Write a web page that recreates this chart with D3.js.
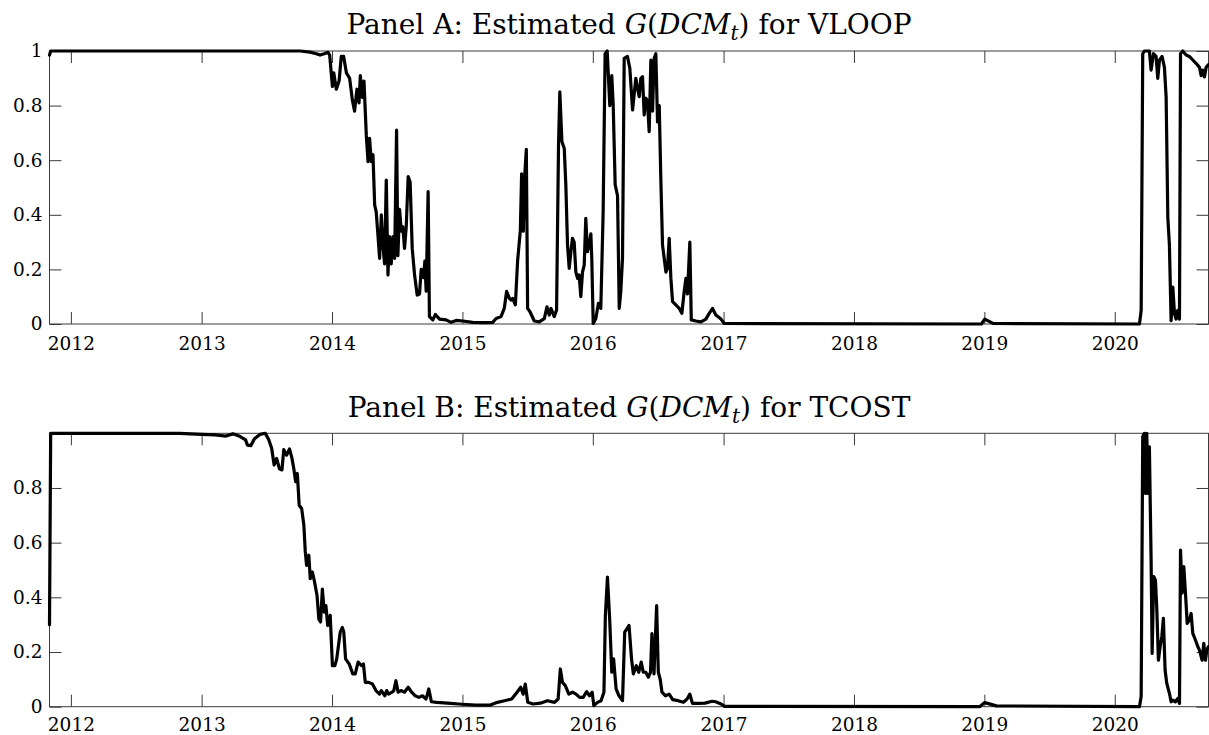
<!DOCTYPE html>
<html>
<head>
<meta charset="utf-8">
<script src="https://cdn.jsdelivr.net/npm/d3@7"></script>
<style>
  html, body { margin: 0; padding: 0; background: #fff; }
  svg { display: block; }
  text { font-family: "DejaVu Serif", serif; fill: #000; }
</style>
</head>
<body>
<svg id="chart" width="1209" height="735"></svg>
<script>
// ---------------- data (decimal years, estimated values) ----------------
const vloopYears = [
2011.836,2011.845,2013.756,2013.83,2013.88,2013.908,2013.94,2013.969,2013.982,
2014.003,2014.013,2014.033,2014.054,2014.071,2014.089,2014.110,2014.135,2014.156,2014.173,
2014.191,2014.207,2014.217,2014.232,2014.245,2014.263,2014.276,2014.288,2014.301,2014.314,
2014.327,2014.339,2014.352,2014.365,2014.378,2014.390,2014.403,2014.416,2014.429,2014.441,
2014.454,2014.467,2014.480,2014.495,2014.505,2014.518,2014.531,2014.543,2014.556,2014.569,
2014.584,2014.599,2014.615,2014.633,2014.653,2014.671,2014.684,2014.702,2014.712,2014.722,
2014.737,2014.747,2014.773,2014.793,2014.824,2014.875,2014.913,2014.952,2015.003,2015.079,
2015.181,2015.232,2015.258,2015.296,2015.321,2015.339,2015.360,2015.372,2015.385,2015.406,
2015.423,2015.436,2015.444,2015.454,2015.467,2015.477,2015.490,2015.500,2015.518,2015.551,
2015.589,2015.628,2015.648,2015.666,2015.679,2015.704,2015.722,2015.737,2015.747,2015.763,
2015.781,2015.793,2015.806,2015.819,2015.832,2015.844,2015.857,2015.870,2015.883,2015.895,
2015.908,2015.921,2015.934,2015.946,2015.959,2015.972,2015.985,2015.992,2016.003,2016.023,
2016.043,2016.061,2016.079,2016.094,2016.110,2016.120,2016.130,2016.145,2016.156,2016.171,
2016.189,2016.202,2016.214,2016.227,2016.240,2016.265,2016.283,2016.304,2016.316,2016.329,
2016.342,2016.355,2016.367,2016.380,2016.393,2016.406,2016.418,2016.431,2016.444,2016.457,
2016.469,2016.482,2016.495,2016.508,2016.520,2016.533,2016.546,2016.559,2016.571,2016.584,
2016.597,2016.610,2016.635,2016.661,2016.681,2016.699,2016.712,2016.724,2016.742,2016.753,
2016.788,2016.827,2016.865,2016.890,2016.916,2016.941,2016.980,2017.005,2018.977,2019.003,
2019.066,2020.189,2020.202,2020.214,2020.227,2020.265,2020.278,2020.296,2020.316,2020.329,
2020.342,2020.362,2020.380,2020.393,2020.406,2020.418,2020.431,2020.444,2020.457,2020.469,
2020.482,2020.495,2020.503,2020.520,2020.546,2020.571,2020.597,2020.622,2020.648,2020.661,
2020.673,2020.686,2020.699,2020.717
];
const vloopValues = [
0.985,1.0,1.0,0.996,0.99,0.985,0.99,0.995,0.985,
0.87,0.92,0.86,0.89,0.98,0.98,0.92,0.90,0.82,0.78,
0.86,0.81,0.91,0.83,0.89,0.69,0.595,0.68,0.595,0.62,
0.436,0.41,0.326,0.24,0.40,0.29,0.22,0.527,0.18,0.32,
0.22,0.32,0.24,0.71,0.25,0.42,0.34,0.356,0.277,0.356,
0.54,0.52,0.277,0.18,0.106,0.11,0.20,0.17,0.23,0.12,
0.485,0.027,0.015,0.035,0.018,0.015,0.006,0.013,0.011,0.006,
0.005,0.006,0.02,0.027,0.057,0.12,0.094,0.088,0.094,0.07,
0.23,0.30,0.34,0.55,0.34,0.535,0.64,0.057,0.045,0.011,
0.008,0.02,0.063,0.033,0.057,0.027,0.051,0.656,0.85,0.668,
0.643,0.51,0.29,0.204,0.265,0.314,0.30,0.19,0.167,0.18,
0.10,0.19,0.216,0.387,0.265,0.29,0.33,0.24,0.002,0.02,
0.076,0.057,0.41,0.99,1.0,0.90,0.80,0.91,0.80,0.51,
0.47,0.057,0.12,0.24,0.973,0.98,0.937,0.784,0.84,0.90,
0.863,0.833,0.90,0.906,0.766,0.827,0.815,0.705,0.967,0.78,
0.973,0.99,0.74,0.80,0.534,0.29,0.24,0.19,0.204,0.314,
0.167,0.082,0.07,0.057,0.039,0.12,0.167,0.11,0.30,0.015,
0.011,0.008,0.018,0.039,0.057,0.033,0.018,0.002,0.0,0.018,
0.002,0.0,0.05,0.99,1.0,1.0,0.93,0.99,0.98,0.90,
0.967,0.98,0.94,0.83,0.39,0.29,0.012,0.135,0.037,0.018,
0.05,0.018,0.99,1.0,0.985,0.98,0.967,0.955,0.94,0.91,
0.93,0.905,0.94,0.95
];

const tcostYears = [
2011.836,2011.845,2012.830,2013.0,2013.104,2013.186,2013.241,2013.296,2013.337,2013.351,
2013.378,2013.405,2013.447,2013.488,2013.515,2013.537,2013.556,2013.575,2013.597,2013.616,
2013.630,2013.652,2013.674,2013.693,2013.707,2013.721,2013.734,2013.748,2013.767,2013.784,
2013.795,2013.805,2013.822,2013.833,2013.849,2013.866,2013.885,2013.899,2013.912,2013.926,
2013.940,2013.953,2013.967,2013.986,2014.003,2014.022,2014.036,2014.063,2014.079,2014.090,
2014.104,2014.132,2014.159,2014.178,2014.200,2014.227,2014.241,2014.255,2014.282,2014.310,
2014.337,2014.364,2014.378,2014.405,2014.419,2014.433,2014.460,2014.474,2014.490,2014.507,
2014.529,2014.556,2014.584,2014.611,2014.638,2014.666,2014.693,2014.721,2014.742,2014.762,
2014.803,2014.885,2014.995,2015.104,2015.214,2015.268,2015.323,2015.378,2015.419,2015.447,
2015.466,2015.482,2015.501,2015.542,2015.597,2015.652,2015.707,2015.734,2015.751,2015.767,
2015.789,2015.816,2015.844,2015.871,2015.899,2015.926,2015.953,2015.975,2015.995,2016.008,
2016.036,2016.063,2016.085,2016.096,2016.112,2016.129,2016.145,2016.159,2016.178,2016.200,
2016.227,2016.244,2016.260,2016.277,2016.296,2016.310,2016.332,2016.351,2016.370,2016.386,
2016.405,2016.425,2016.441,2016.452,2016.468,2016.488,2016.501,2016.515,2016.529,2016.556,
2016.584,2016.611,2016.652,2016.693,2016.721,2016.742,2016.762,2016.803,2016.858,2016.912,
2016.940,2016.981,2017.008,2018.964,2019.003,2019.092,2020.189,2020.202,2020.214,2020.227,
2020.235,2020.245,2020.255,2020.265,2020.278,2020.286,2020.298,2020.311,2020.321,2020.334,
2020.347,2020.360,2020.372,2020.385,2020.398,2020.418,2020.431,2020.444,2020.464,2020.482,
2020.495,2020.503,2020.515,2020.528,2020.541,2020.554,2020.571,2020.584,2020.597,2020.617,
2020.635,2020.648,2020.668,2020.681,2020.694,2020.704,2020.717
];
const tcostValues = [
0.30,1.0,1.0,0.996,0.994,0.99,0.998,0.988,0.976,0.957,
0.955,0.98,0.996,1.0,0.976,0.945,0.884,0.908,0.87,0.866,
0.94,0.92,0.943,0.908,0.87,0.823,0.853,0.737,0.725,0.664,
0.566,0.517,0.554,0.468,0.493,0.456,0.407,0.32,0.31,0.43,
0.346,0.37,0.297,0.334,0.15,0.15,0.175,0.273,0.29,0.273,
0.175,0.156,0.12,0.12,0.163,0.15,0.156,0.089,0.089,0.083,
0.059,0.046,0.059,0.04,0.059,0.046,0.053,0.059,0.095,0.053,
0.059,0.053,0.071,0.053,0.04,0.034,0.04,0.028,0.065,0.018,
0.016,0.013,0.009,0.006,0.006,0.016,0.022,0.028,0.053,0.071,
0.046,0.083,0.016,0.01,0.013,0.022,0.016,0.028,0.138,0.089,
0.077,0.046,0.053,0.046,0.034,0.034,0.055,0.04,0.053,0.004,
0.016,0.022,0.053,0.334,0.474,0.32,0.126,0.175,0.065,0.04,
0.022,0.273,0.285,0.297,0.175,0.12,0.15,0.126,0.163,0.126,
0.126,0.108,0.126,0.267,0.12,0.37,0.126,0.101,0.053,0.04,
0.046,0.026,0.022,0.016,0.028,0.046,0.012,0.012,0.013,0.02,
0.018,0.01,0.001,0.0,0.015,0.003,0.0,0.037,0.988,1.0,
0.78,1.0,0.78,0.95,0.537,0.195,0.476,0.463,0.366,0.17,
0.22,0.256,0.323,0.134,0.085,0.049,0.018,0.024,0.018,0.03,
0.012,0.573,0.415,0.512,0.415,0.305,0.317,0.341,0.268,0.244,
0.22,0.207,0.17,0.232,0.17,0.207,0.22
];

const xTickYears = [2012,2013,2014,2015,2016,2017,2018,2019,2020];
const yTicksA = [0,0.2,0.4,0.6,0.8,1];
const yTicksB = [0,0.2,0.4,0.6,0.8];
const xStart = 2011.836, xEnd = 2020.717;

// ---------------- helpers ----------------
function decYear(y) {
  const yr = Math.floor(y);
  const s = Date.UTC(yr, 0, 1), e = Date.UTC(yr + 1, 0, 1);
  return new Date(s + (y - yr) * (e - s));
}
function yTickFmt(v) { return v === 0 ? "0" : v === 1 ? "1" : d3.format(".1f")(v); }

const FONT = "DejaVu Serif";
const svg = d3.select("#chart");
const left = 49.5, right = 1208.5;
const x = d3.scaleUtc().domain([decYear(xStart), decYear(xEnd)]).range([left, right]);
const tickLen = 12;
const frameColor = "#3a3a3a";

function panel(top, bottom, years, values, yTicks, titleName, titleY, labelY) {
  const y = d3.scaleLinear().domain([0, 1]).range([bottom, top]);
  const g = svg.append("g");

  // frame
  g.append("rect")
    .attr("x", left).attr("y", top)
    .attr("width", right - left).attr("height", bottom - top)
    .attr("fill", "none").attr("stroke", frameColor).attr("stroke-width", 1);

  const xDates = xTickYears.map(yr => new Date(Date.UTC(yr, 0, 1)));

  // bottom axis (inward ticks)
  const xb = g.append("g").attr("transform", `translate(0,${bottom})`)
    .call(d3.axisBottom(x).tickValues(xDates).tickSize(-tickLen).tickPadding(0)
      .tickFormat(d3.utcFormat("%Y")));
  xb.attr("font-family", FONT);
  xb.select(".domain").remove();
  xb.selectAll(".tick line").attr("stroke", frameColor);
  xb.selectAll(".tick text").attr("font-size", 18.5).attr("dy", null).attr("y", labelY)
    .attr("font-family", FONT).attr("fill", "#000");

  // top axis ticks
  const xt = g.append("g").attr("transform", `translate(0,${top})`)
    .call(d3.axisTop(x).tickValues(xDates).tickSize(-tickLen).tickFormat(""));
  xt.select(".domain").remove();
  xt.selectAll(".tick line").attr("stroke", frameColor);

  // left axis
  const yl = g.append("g").attr("transform", `translate(${left},0)`)
    .call(d3.axisLeft(y).tickValues(yTicks).tickSize(-tickLen).tickPadding(0).tickFormat(yTickFmt));
  yl.attr("font-family", FONT);
  yl.select(".domain").remove();
  yl.selectAll(".tick line").attr("stroke", frameColor);
  yl.selectAll(".tick text").attr("font-size", 18.5).attr("x", -7)
    .attr("font-family", FONT).attr("fill", "#000");

  // right axis ticks
  const yr = g.append("g").attr("transform", `translate(${right},0)`)
    .call(d3.axisRight(y).tickValues(yTicks).tickSize(-tickLen).tickFormat(""));
  yr.select(".domain").remove();
  yr.selectAll(".tick line").attr("stroke", frameColor);

  // data line
  const pts = years.map((t, i) => [decYear(t), values[i]]);
  g.append("path")
    .datum(pts)
    .attr("fill", "none")
    .attr("stroke", "#000")
    .attr("stroke-width", 3.2)
    .attr("stroke-linejoin", "round")
    .attr("stroke-linecap", "round")
    .attr("d", d3.line().x(d => x(d[0])).y(d => y(d[1])));

  // title
  const t = svg.append("text")
    .attr("x", (left + right) / 2).attr("y", titleY)
    .attr("text-anchor", "middle")
    .attr("font-family", FONT)
    .attr("font-size", 28);
  t.append("tspan").text(`Panel ${titleName[0]}: Estimated `);
  t.append("tspan").attr("font-style", "italic").text("G");
  t.append("tspan").text("(");
  t.append("tspan").attr("font-style", "italic").text("DCM");
  t.append("tspan").attr("font-style", "italic").attr("font-size", 20).attr("dy", 6).text("t");
  t.append("tspan").attr("dy", -6).text(")");
  t.append("tspan").text(` for ${titleName[1]}`);
}

panel(51, 324, vloopYears, vloopValues, yTicksA, ["A", "VLOOP"], 34, 26);
panel(433.3, 706.7, tcostYears, tcostValues, yTicksB, ["B", "TCOST"], 417, 24.5);
</script>
</body>
</html>
